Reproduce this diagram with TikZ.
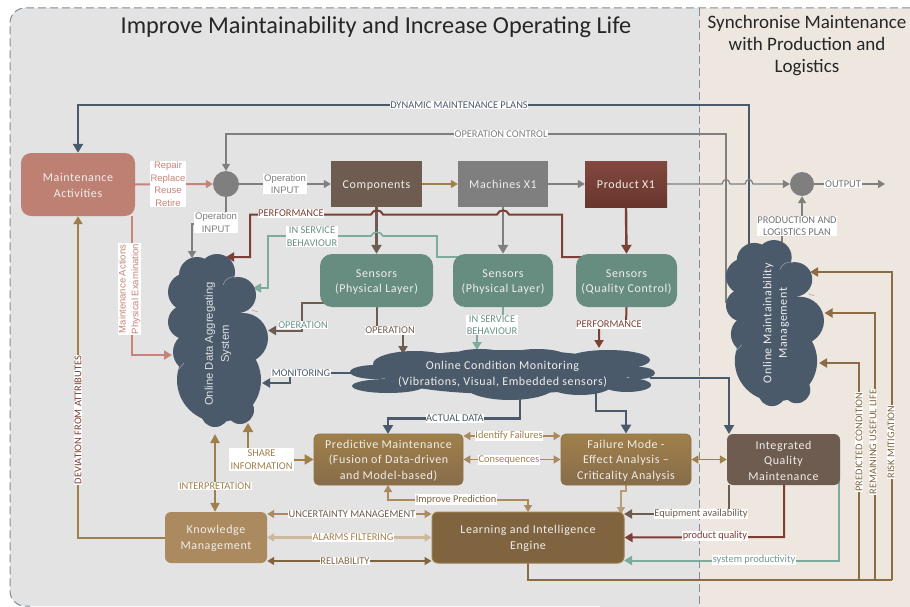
\documentclass[tikz,border=0pt]{standalone}
\usepackage{fontspec}
\setmainfont{Carlito}
\newfontfamily\arialf{Liberation Sans}
\newfontfamily\boxf[LetterSpace=5]{Carlito}
\usetikzlibrary{arrows.meta}
\definecolor{cGray}{HTML}{7F7F7F}
\definecolor{cSlate}{HTML}{4A5A6B}
\definecolor{cBrown}{HTML}{6E5C50}
\definecolor{cRed}{HTML}{7B3F35}
\definecolor{cTeal}{HTML}{7DAB9E}
\definecolor{cSens}{HTML}{668D80}
\definecolor{cTan}{HTML}{AB8A5F}
\definecolor{cGold}{HTML}{A0804A}
\definecolor{cDark}{HTML}{806440}
\definecolor{cOut}{HTML}{8B6D45}
\definecolor{cPink}{HTML}{C6837A}
\definecolor{cMaint}{HTML}{BF8074}
\definecolor{cLight}{HTML}{CDB89E}
\definecolor{cBgL}{HTML}{E3E3E3}
\definecolor{cBgR}{HTML}{EEE7E0}
\definecolor{cDash}{HTML}{7F8E9B}
\definecolor{cTxt}{HTML}{F0EEEA}
\pgfdeclarelayer{back}
\pgfdeclarelayer{ground}
\pgfsetlayers{ground,back,main}
\newcommand{\tup}{\rule{0pt}{10.5pt}}
\newcommand{\tone}{\rule[-4pt]{0pt}{16pt}}
\tikzset{
  boxn/.style={font=\boxf\fontsize{12}{15.5}\selectfont,text=cTxt,align=center,inner sep=0pt},
  lbl/.style={fill=white,inner sep=0.7pt,font=\fontsize{10.4}{12.4}\selectfont,align=center},
  albl/.style={fill=white,inner sep=0.7pt,font=\arialf\fontsize{9.5}{12.6}\selectfont,align=center},
  tipS/.style={-{Triangle[length=7pt,width=8pt]}},
  tipM/.style={-{Triangle[length=8pt,width=9pt]}},
  tipL/.style={-{Triangle[length=9pt,width=10pt]}},
  both/.style={{Triangle[length=7pt,width=8pt]}-{Triangle[length=7pt,width=8pt]}},
  bothL/.style={{Triangle[length=9pt,width=9pt]}-{Triangle[length=9pt,width=9pt]}}
}
\newcommand{\cloudlobes}{%
  \foreach \cx/\cy/\cr in {197/275/18,217/272/18,238/295/18,187/292/19,185/322/17,193/352/20,243/338/25,210/312/31,219/380/42,215/413/14,240/410/14}
    {\fill[cSlate] (\cx,\cy) circle [radius=\cr];}%
  \draw[cSlate!55!white,line width=.5pt] (223,285) .. controls (225,279) and (230,276) .. (236,277);
  \draw[cSlate!55!white,line width=.5pt] (178,370) -- (184,363);
  \draw[cSlate!55!white,line width=.5pt] (252,310) -- (258,312);
}
\begin{document}
\begin{tikzpicture}[x=1pt,y=-1pt,line join=miter]
\useasboundingbox (0,0) rectangle (910,607);
\begin{pgfonlayer}{ground}
  \fill[white] (0,0) rectangle (910,607);
  \fill[cBgR] (699,8) rectangle (910,607);
  \fill[cBgL,rounded corners=15] (699,8) -- (10,8) -- (10,606) -- (699,606) -- cycle;
  \fill[cBgL] (600,8) rectangle (699,607);
  \draw[cDash,line width=1pt,dash pattern=on 8pt off 4pt,rounded corners=15] (910,8) -- (10,8) -- (10,606) -- (30,606);
  \draw[cDash,line width=1pt,dash pattern=on 8pt off 4pt] (699,8) -- (699,607);
\end{pgfonlayer}

% Titles
\node[name=title1,font=\fontsize{24.3}{27}\selectfont,text=black!85] at (376,27) {Improve Maintainability and Increase Operating Life};
\node[name=title2,font=\fontsize{19}{22}\selectfont,text=black!85,align=center] at (807,46) {Synchronise Maintenance\\with Production and\\Logistics};

% Boxes
\fill[cMaint,rounded corners=10] (21,153) rectangle (135,216);
\node[boxn,name=maint,minimum width=114pt,minimum height=63pt] at (78,184.5) {\tup Maintenance\\Activities};
\node[circle,fill=cGray,minimum size=26pt,inner sep=0pt,name=sumA] at (226,184) {};
\node[circle,fill=cGray,minimum size=24pt,inner sep=0pt,name=sumB] at (802,184) {};
\node[boxn,name=comp,fill=cBrown,minimum width=91pt,minimum height=46pt] at (376.5,184) {\tone Components};
\node[boxn,name=mach,fill=cGray,minimum width=90pt,minimum height=46pt] at (503,184) {\tone Machines X1};
\node[boxn,name=prod,top color=cRed!95!white,bottom color=cRed!85!black,minimum width=82pt,minimum height=46pt] at (626,184) {\tone Product X1};
\node[boxn,name=senA,rectangle,rounded corners=12,fill=cSens,minimum width=113pt,minimum height=53pt] at (376.5,280.5) {\tup Sensors\\(Physical Layer)};
\node[boxn,name=senB,rectangle,rounded corners=12,fill=cSens,minimum width=100pt,minimum height=53pt] at (503,280.5) {\tup Sensors\\(Physical Layer)};
\node[boxn,name=senC,rectangle,rounded corners=12,fill=cSens,minimum width=101pt,minimum height=53pt] at (626.5,280.5) {\tup Sensors\\(Quality Control)};
\node[boxn,name=pred,rounded corners=5,top color=cGold,bottom color=cDark!95,draw=cGold!90!black,line width=.8pt,minimum width=149pt,minimum height=51pt] at (388.5,459.5) {\tup Predictive Maintenance\\(Fusion of Data-driven\\and Model-based)};
\node[boxn,name=fail,rounded corners=5,top color=cGold,bottom color=cDark!95,draw=cGold!90!black,line width=.8pt,minimum width=130pt,minimum height=51pt] at (626,459.5) {\tup Failure Mode -\\Effect Analysis –\\Criticality Analysis};
\node[boxn,name=iqm,rounded corners=6,fill=cBrown,minimum width=113pt,minimum height=51pt] at (783.5,459.5) {\tup Integrated\\Quality\\Maintenance};
\node[boxn,name=know,rounded corners=6,fill=cTan,minimum width=102pt,minimum height=51pt] at (216,537.5) {\tup Knowledge\\Management};
\node[boxn,name=learn,rounded corners=6,fill=cDark,draw=cGold,line width=1pt,minimum width=192pt,minimum height=51pt] at (528,537.5) {\tup Learning and Intelligence\\Engine};

% Clouds
\cloudlobes
\begin{scope}[shift={(561.36,-3.8)},xscale=.98,yscale=.96]
  \cloudlobes
\end{scope}
\fill[cSlate]
  (505,372) ellipse [x radius=126,y radius=22]
  (375,372) ellipse [x radius=25,y radius=7]
  (388,386) ellipse [x radius=36,y radius=7]
  (415,364) ellipse [x radius=42,y radius=13]
  (480,359) ellipse [x radius=32,y radius=10]
  (537,358) ellipse [x radius=32,y radius=9]
  (608,360) ellipse [x radius=42,y radius=10]
  (639,373) ellipse [x radius=16,y radius=6]
  (627,385) ellipse [x radius=24,y radius=7]
  (510,385) ellipse [x radius=46,y radius=15]
  (580,385) ellipse [x radius=32,y radius=10];
\node[name=dcloud,rotate=90,align=center,text=cTxt!90!cSlate,font=\arialf\fontsize{11.3}{16}\selectfont] at (218,344) {Online Data Aggregating\\System};
\node[name=mcloud,rotate=90,boxn] at (776,323) {Online Maintainability\\Management};
\node[name=ccloud,boxn] at (502.5,374) {Online Condition Monitoring\\(Vibrations, Visual, Embedded sensors)};

% Free ends on the clouds
\coordinate (dcInput) at (192,258);
\coordinate (dcPerf) at (226,257);
\coordinate (dcServ) at (253,288);
\coordinate (dcOp) at (268,330.5);
\coordinate (dcMon) at (262,383);
\coordinate (dcMaint) at (172,355);
\coordinate (dcShare) at (248,423);
\coordinate (dcInterp) at (215,434);
\coordinate (ccOp) at (403,354);
\coordinate (ccServ) at (477,350);
\coordinate (ccPerf) at (599,348);
\coordinate (ccMon) at (352,373);
\coordinate (ccAct) at (520,396);
\coordinate (ccFail) at (596,392);
\coordinate (ccIqm) at (650,378);
\coordinate (mcDyn) at (749,250);
\coordinate (mcCtl) at (728,302);
\coordinate (mcPlan) at (782,246);
\coordinate (mcRisk) at (810,272);
\coordinate (mcLife) at (824.5,313);
\coordinate (mcPred) at (819,363);

\begin{pgfonlayer}{back}
% top feedback
\draw[cSlate,line width=2.4pt,tipL] (mcDyn) -- (749,105) -- (78,105) -- (maint.north);
\draw[cGray,line width=1.2pt,tipS] (mcCtl) -- (726,302) -- (726,134) -- (226,134) -- (sumA.north);
% main line
\draw[cPink,line width=2pt,tipS] (maint.east) -- (sumA.west);
\draw[cGray,line width=1.2pt,tipS] (sumA.east) -- (comp.west);
\draw[cGold,line width=1.2pt,tipS] (comp.east) -- (mach.west);
\draw[cGray,line width=1.2pt,tipS] (mach.east) -- (prod.west);
\draw[cGray,line width=1.2pt,tipS] (prod.east) -- (722,184) .. controls (723,178) and (729,178) .. (730,184) -- (745,184) .. controls (746,178) and (752,178) .. (753,184) -- (sumB.west);
\draw[cGray,line width=1.2pt,tipS] (sumB.east) -- (885,184);
\draw[cGray,line width=1.2pt,tipS] (mcPlan) -- (782,232) -- (802,232) -- (sumB.south);
\draw[cGray,line width=1.2pt,tipS] (sumA.south) -- (226,224) -- (192,224) -- (dcInput);
% component -> sensors
\draw[cBrown,line width=2.4pt,tipL] (comp.south) -- (senA.north);
\draw[cGray,line width=2.4pt,tipL] (mach.south) -- (senB.north);
\draw[cRed,line width=2.4pt,tipL] (prod.south) -- (senC.north);
% performance
\draw[cRed,line width=2pt,tipM] (582,257) -- (562,257) -- (562,214.5) -- (509,214.5) .. controls (507,209) and (499,209) .. (497,214.5) -- (383,214.5) .. controls (381,209) and (373,209) .. (371,214.5) -- (250,214.5) -- (250,257) -- (dcPerf);
% in service
\draw[cTeal,line width=1.6pt,tipM] (460,257) -- (437,257) -- (437,236) -- (383,236) .. controls (381,231) and (373,231) .. (371,236) -- (268,236) -- (268,288) -- (dcServ);
% sensors -> clouds
\draw[cBrown,line width=2pt,tipM] (330,303) -- (302,303) -- (302,330.5) -- (dcOp);
\draw[cBrown,line width=2pt,tipM] (senA.south) -- (376.5,330) -- (403,330) -- (ccOp);
\draw[cTeal,line width=2pt,tipM] (senB.south) -- (503,330) -- (477,330) -- (ccServ);
\draw[cRed,line width=2pt,tipM] (senC.south) -- (626,324) -- (599,324) -- (ccPerf);
\draw[cSlate,line width=2pt,tipM] (ccMon) -- (290,373) -- (290,383) -- (dcMon);
\draw[cSlate,line width=2.4pt,tipL] (ccAct) -- (520,418.5) -- (388,418.5) -- (388,434);
\draw[cSlate,line width=2.4pt,tipL] (ccFail) -- (596,411) -- (626,411) -- (fail.north);
\draw[cSlate,line width=1.8pt,tipL] (ccIqm) -- (729,378) -- (729,434);
% middle
\draw[cTan,line width=1.6pt,both] (pred.east |- 0,436) -- (fail.west |- 0,436);
\draw[cTan,line width=1.6pt,both] (pred.east) -- (fail.west);
\draw[cGold,line width=1.6pt,both] (fail.east) -- (iqm.west);
\draw[cGold,line width=2pt,tipL] (248,459.5) -- (dcShare);
\draw[cGold,line width=2pt,tipL] (248,459.5) -- (pred.west);
\draw[cGold,line width=2pt,bothL] (dcInterp) -- (know.north -| dcInterp);
% left
\draw[cGold,line width=2pt,tipM] (know.west) -- (78,537.5) -- (maint.south);
\draw[cPink,line width=2.2pt,tipM] (132,216) -- (132,355) -- (dcMaint);
% bottom
\draw[cTan,line width=1.6pt,both] (know.east |- 0,514) -- (learn.west |- 0,514);
\draw[cLight,line width=2.4pt,both] (know.east) -- (learn.west);
\draw[cDark,line width=1.6pt,both] (know.east |- 0,561) -- (learn.west |- 0,561);
\draw[cTan,line width=1.6pt,both] (388,485) -- (388,500) -- (528,500) -- (528,512);
\draw[cTan!85!white,line width=1.6pt,tipS] (fail.south -| 626,0) -- (626,491) -- (621,491) -- (621,514);
\draw[cBrown,line width=2pt,tipM] (729,485) -- (729,514) -- (624,514);
\draw[cRed,line width=2pt,tipM] (784,485) -- (784,537) -- (learn.east);
\draw[cTeal,line width=2pt,tipM] (839,480) -- (839,560.5) -- (624,560.5);
% learning output
\draw[cOut,line width=2pt] (528,563) -- (528,580) -- (892,580);
\draw[cOut,line width=2pt,tipM] (859,580) -- (859,363) -- (mcPred);
\draw[cOut,line width=2pt,tipM] (875,580) -- (875,313) -- (mcLife);
\draw[cOut,line width=2pt,tipM] (892,580) -- (892,272) -- (mcRisk);
\end{pgfonlayer}

% Labels
\node[lbl,name=lDyn,text=cSlate] at (459,105) {DYNAMIC MAINTENANCE PLANS};
\node[lbl,name=lCtl,text=cGray] at (501,134) {OPERATION CONTROL};
\node[albl,name=lRep,text=cPink] at (168,184) {Repair\\Replace\\Reuse\\Retire};
\node[albl,name=lOp1,text=cGray] at (285,184) {Operation\\INPUT};
\node[albl,name=lOp2,text=cGray] at (216,222.5) {Operation\\INPUT};
\node[lbl,name=lPerf,text=cRed] at (291,213.5) {PERFORMANCE};
\node[lbl,name=lServ,text=cTeal!85!black] at (312,236.5) {IN SERVICE\\BEHAVIOUR};
\node[lbl,name=lOpA,text=cTeal!85!black] at (303,325) {OPERATION};
\node[lbl,name=lOpB,text=cBrown] at (390,330.5) {OPERATION};
\node[lbl,name=lServB,text=cTeal!85!black] at (492,325) {IN SERVICE\\BEHAVIOUR};
\node[lbl,name=lPerfB,text=cRed] at (609,324.5) {PERFORMANCE};
\node[lbl,name=lMon,text=cSlate] at (301,373) {MONITORING};
\node[lbl,name=lAct,text=cSlate] at (455,418.5) {ACTUAL DATA};
\node[lbl,name=lId,text=cGold] at (509,436) {Identify Failures};
\node[lbl,name=lCons,text=cGold] at (509,460) {Consequences};
\node[lbl,name=lShare,text=cGold,inner sep=1.5pt] at (261.5,459.5) {SHARE\\INFORMATION};
\node[lbl,name=lInt,text=cGold] at (215,486) {INTERPRETATION};
\node[lbl,name=lDev,text=cRed,rotate=90] at (78,420) {DEVIATION FROM ATTRIBUTES};
\node[albl,name=lAct2,text=cPink,rotate=90,font=\arialf\fontsize{9.5}{12.8}\selectfont] at (129.5,289) {Maintenance Actions\\Physical Examination};
\node[lbl,name=lUnc,text=cBrown] at (352,514) {UNCERTAINTY MANAGEMENT};
\node[lbl,name=lAl,text=cGold] at (353,537.5) {ALARMS FILTERING};
\node[lbl,name=lRel,text=cDark] at (345,561) {RELIABILITY};
\node[lbl,name=lImp,text=cDark] at (456,499.5) {Improve Prediction};
\node[lbl,name=lEq,text=cBrown] at (701,514) {Equipment availability};
\node[lbl,name=lQual,text=cRed] at (715,536) {product quality};
\node[lbl,name=lSys,text=cTeal!90!black] at (754,560) {system productivity};
\node[lbl,name=lOut,text=cGray!90!black] at (843,184) {OUTPUT};
\node[lbl,name=lPlan,text=cGray!90!black] at (797,226) {PRODUCTION AND\\LOGISTICS PLAN};
\node[lbl,name=lPred,text=cDark,rotate=90] at (859,442) {PREDICTED CONDITION};
\node[lbl,name=lLife,text=cDark,rotate=90] at (873,442) {REMAINING USEFUL LIFE};
\node[lbl,name=lRisk,text=cDark,rotate=90] at (891,442) {RISK MITIGATION};
\end{tikzpicture}
\end{document}
